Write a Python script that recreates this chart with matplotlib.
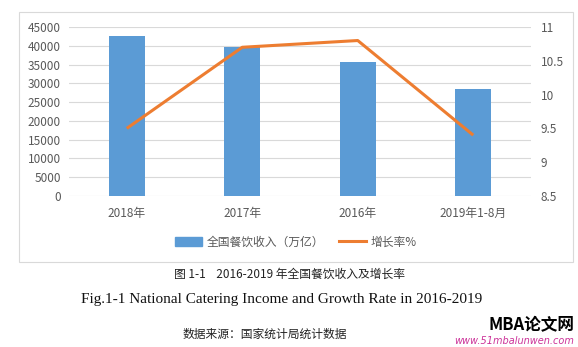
import matplotlib
matplotlib.use("Agg")
import matplotlib.pyplot as plt
from matplotlib.patches import Rectangle
from matplotlib.lines import Line2D

plt.rcParams['font.family'] = ['Noto Sans CJK SC', 'DejaVu Sans']

categories = ["2018年", "2017年", "2016年", "2019年1-8月"]
income = [42716, 39644, 35799, 28620]
growth = [9.5, 10.7, 10.8, 9.4]
left_ticks = [0, 5000, 10000, 15000, 20000, 25000, 30000, 35000, 40000, 45000]
right_ticks = [8.5, 9, 9.5, 10, 10.5, 11]

bar_color = "#5B9BD5"
line_color = "#ED7D31"
tick_color = "#595959"
grid_color = "#D9D9D9"

W, H = 578, 347
fig = plt.figure(figsize=(W / 100, H / 100), dpi=100)
fig.patch.set_facecolor("white")

# chart frame
fig.add_artist(Rectangle((19 / W, 1 - 262 / H), (573 - 19) / W, (262 - 12) / H,
                         transform=fig.transFigure, fill=False,
                         edgecolor=grid_color, linewidth=0.8))

ax = fig.add_axes([69 / W, 1 - 196 / H, (531 - 69) / W, (196 - 27) / H])
x = list(range(len(categories)))
ax.bar(x, income, width=0.31, color=bar_color, zorder=2)
ax.set_ylim(0, 45000)
ax.set_xlim(-0.5, len(categories) - 0.5)
ax.set_yticks(left_ticks)
ax.set_yticklabels([str(t) for t in left_ticks])
ax.set_xticks(x)
ax.set_xticklabels(categories)
ax.yaxis.grid(True, color=grid_color, linewidth=0.8, zorder=0)
ax.set_axisbelow(True)
for s in ax.spines.values():
    s.set_visible(False)
ax.tick_params(axis='both', length=0, labelsize=8.5, colors=tick_color)
ax.tick_params(axis='x', pad=8)
ax.tick_params(axis='y', pad=6)

ax2 = ax.twinx()
ax2.plot(x, growth, color=line_color, linewidth=2.2, solid_capstyle='butt', zorder=3)
ax2.set_ylim(8.5, 11)
ax2.set_yticks(right_ticks)
ax2.set_yticklabels(["8.5", "9", "9.5", "10", "10.5", "11"])
for s in ax2.spines.values():
    s.set_visible(False)
ax2.tick_params(axis='y', length=0, labelsize=8.5, colors=tick_color, pad=7)

handles = [Rectangle((0, 0), 1, 1, color=bar_color),
           Line2D([0], [0], color=line_color, linewidth=2.2)]
fig.legend(handles, ["全国餐饮收入（万亿）", "增长率%"], loc='center',
           bbox_to_anchor=(296 / W, 1 - 242 / H), ncol=2, frameon=False,
           fontsize=8.5, labelcolor=tick_color, handlelength=2.3,
           handleheight=0.7, columnspacing=1.2, handletextpad=0.4)

fig.text(290 / W, 1 - 274 / H, "图 1-1    2016-2019 年全国餐饮收入及增长率",
         ha='center', va='center', fontsize=8.5, color="#222222")
fig.text(282 / W, 1 - 300 / H, "Fig.1-1 National Catering Income and Growth Rate in 2016-2019",
         ha='center', va='center', fontsize=11, color="#111111",
         family=['Liberation Serif'])
fig.text(265 / W, 1 - 334 / H, "数据来源：国家统计局统计数据",
         ha='center', va='center', fontsize=8.5, color="#222222")
fig.text(574 / W, 1 - 325 / H, "MBA论文网", ha='right', va='center',
         fontsize=12, fontweight='heavy', color="black")
fig.text(574 / W, 1 - 341 / H, "www.51mbalunwen.com", ha='right', va='center',
         fontsize=7, style='italic', color="#CC3399",
         family=['DejaVu Sans'])

fig.savefig("out.png", dpi=100)
